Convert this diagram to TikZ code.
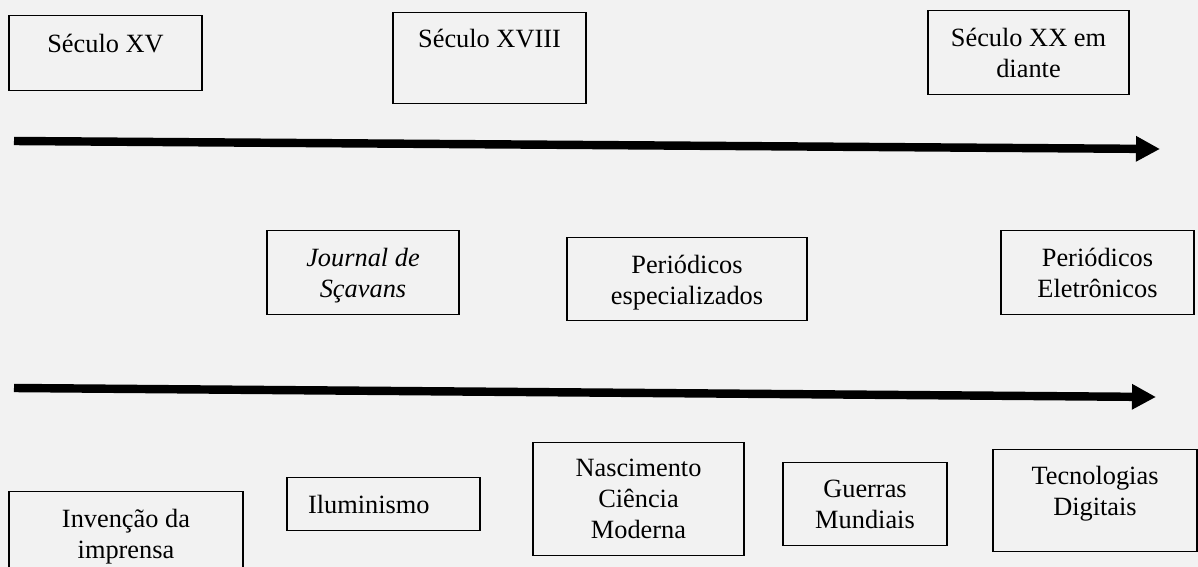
\documentclass[tikz,border=0pt]{standalone}
\usepackage{fontspec}
\setmainfont{Liberation Serif}
\usetikzlibrary{arrows.meta}
\definecolor{fundo}{HTML}{F2F2F2}

\tikzset{
  caixa/.style={draw,line width=0.8pt,align=center,anchor=north,inner ysep=0pt,
    minimum width=3.86cm,font=\fontsize{15}{17.6}\selectfont},
  linha/.style={line width=4.8pt,-{Triangle[length=0.48cm,width=0.48cm]}}
}

\begin{document}
\begin{tikzpicture}[x=0.02cm,y=-0.02cm]
  \useasboundingbox (0,0) rectangle (1198,567);
  \fill[fundo] (0,0) rectangle (1198,567);
  % periodos
  \node[caixa,text height=0.74cm,text depth=0.76cm] (sec15) at (105.5,15) {Século XV};
  \node[caixa,text height=0.7cm,text depth=1.12cm] (sec18) at (489.5,12) {Século XVIII};
  \node[caixa,minimum width=4.02cm,text height=1.34cm,text depth=0.34cm] (sec20) at (1028.5,10) {Século XX em\\diante};
  % linha do tempo
  \coordinate (ini1) at (14,141);
  \coordinate (fim1) at (1160,149);
  \draw[linha] (ini1) -- (fim1);
  % periodicos
  \node[caixa,minimum width=3.84cm,text height=1.34cm,text depth=0.34cm,font=\fontsize{15}{17.6}\selectfont\itshape] (jornal) at (363,230) {Journal de\\Sçavans};
  \node[caixa,minimum width=4.8cm,text height=1.34cm,text depth=0.32cm] (espec) at (687,237) {Periódicos\\especializados};
  \node[caixa,text height=1.34cm,text depth=0.34cm] (eletr) at (1097.5,230) {Periódicos\\Eletrônicos};
  \coordinate (ini2) at (14,388);
  \coordinate (fim2) at (1156,397);
  \draw[linha] (ini2) -- (fim2);
  % acontecimentos
  \node[caixa,minimum width=4.68cm,text height=1.34cm,text depth=0.4cm] (impr) at (126,491) {Invenção da\\imprensa};
  \node[caixa,align=left,text width=3.02cm,inner xsep=0.42cm,text height=0.72cm,text depth=0.34cm] (ilum) at (383.5,477) {Iluminismo};
  \node[caixa,minimum width=4.22cm,text height=1.92cm,text depth=0.34cm] (cienc) at (638.5,442) {Nascimento\\Ciência\\Moderna};
  \node[caixa,minimum width=3.28cm,text height=1.32cm,text depth=0.34cm] (guerra) at (865,462) {Guerras\\Mundiais};
  \node[caixa,minimum width=4.08cm,text height=1.32cm,text depth=0.72cm] (tecn) at (1095,449) {Tecnologias\\Digitais};
\end{tikzpicture}
\end{document}
